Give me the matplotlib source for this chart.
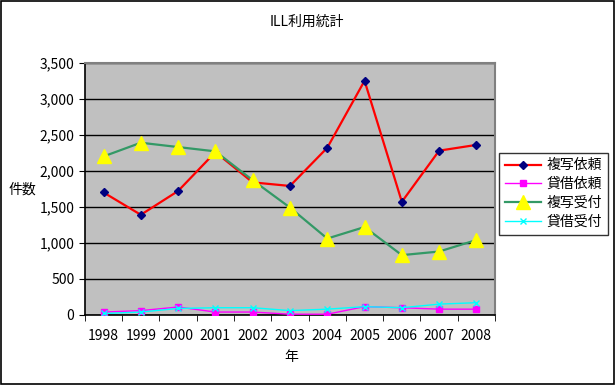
import matplotlib
matplotlib.use("Agg")
import matplotlib.pyplot as plt
import numpy as np

plt.rcParams['font.family'] = ['Noto Sans CJK JP', 'DejaVu Sans']

years = ["1998", "1999", "2000", "2001", "2002", "2003", "2004", "2005", "2006", "2007", "2008"]
copy_req = [1700, 1390, 1720, 2260, 1840, 1790, 2320, 3250, 1570, 2280, 2360]
loan_req = [40, 60, 110, 40, 40, 10, 10, 115, 100, 80, 80]
copy_recv = [2200, 2390, 2330, 2270, 1870, 1490, 1060, 1220, 830, 880, 1040]
loan_recv = [20, 40, 90, 100, 100, 60, 80, 115, 100, 150, 170]

fig = plt.figure(figsize=(6.15, 3.85), dpi=100)
fig.patch.set_facecolor("white")
ax = fig.add_axes([0.138, 0.182, 0.667, 0.655])
ax.set_facecolor("#c0c0c0")

x = np.arange(len(years))
ax.plot(x, copy_req, color="#ff0000", lw=1.6, marker="D", ms=4.5, mfc="#000080", mec="#000080", label="複写依頼", zorder=3)
ax.plot(x, loan_req, color="#ff00ff", lw=1, marker="s", ms=5, mfc="#ff00ff", mec="#ff00ff", label="貸借依頼", zorder=4)
ax.plot(x, copy_recv, color="#339966", lw=1.6, marker="^", ms=10, mfc="#ffff00", mec="#ffff00", label="複写受付", zorder=5)
ax.plot(x, loan_recv, color="#00ffff", lw=1, marker="x", ms=4, mec="#00ffff", label="貸借受付", zorder=6)

ax.set_xlim(-0.5, len(years) - 0.5)
ax.set_ylim(0, 3500)
ax.set_yticks(np.arange(0, 3501, 500))
ax.set_yticklabels([f"{v:,}" for v in range(0, 3501, 500)])
ax.yaxis.grid(True, color="black", lw=1)
ax.set_axisbelow(True)
ax.set_xticks(x)
ax.set_xticklabels(years)
ax.set_xticks(np.arange(-0.5, len(years), 1), minor=True)
ax.tick_params(axis="x", which="major", length=0, labelsize=10, pad=10)
ax.tick_params(axis="x", which="minor", length=4, direction="out", color="black")
ax.tick_params(axis="y", length=4, direction="out", labelsize=10, color="black")

for side in ["top", "right"]:
    ax.spines[side].set_color("#808080")
    ax.spines[side].set_linewidth(1.5)
for side in ["left", "bottom"]:
    ax.spines[side].set_color("black")
    ax.spines[side].set_linewidth(1.2)

fig.text(0.499, 0.943, "ILL利用統計", ha="center", va="center", fontsize=10)
fig.text(0.036, 0.507, "件数", ha="center", va="center", fontsize=10)
fig.text(0.474, 0.073, "年", ha="center", va="center", fontsize=10)

leg = fig.legend(loc="center", bbox_to_anchor=(0.9, 0.497), frameon=True, fancybox=False,
                 edgecolor="black", fontsize=10, handlelength=2.6, borderpad=0.4,
                 labelspacing=0.35, handletextpad=0.4, borderaxespad=0)
leg.get_frame().set_linewidth(1)

fig.add_artist(plt.Rectangle((0.001, 0.002), 0.997, 0.996, transform=fig.transFigure,
                             fill=False, edgecolor="black", lw=1.2))

fig.savefig("out.png", dpi=100)
